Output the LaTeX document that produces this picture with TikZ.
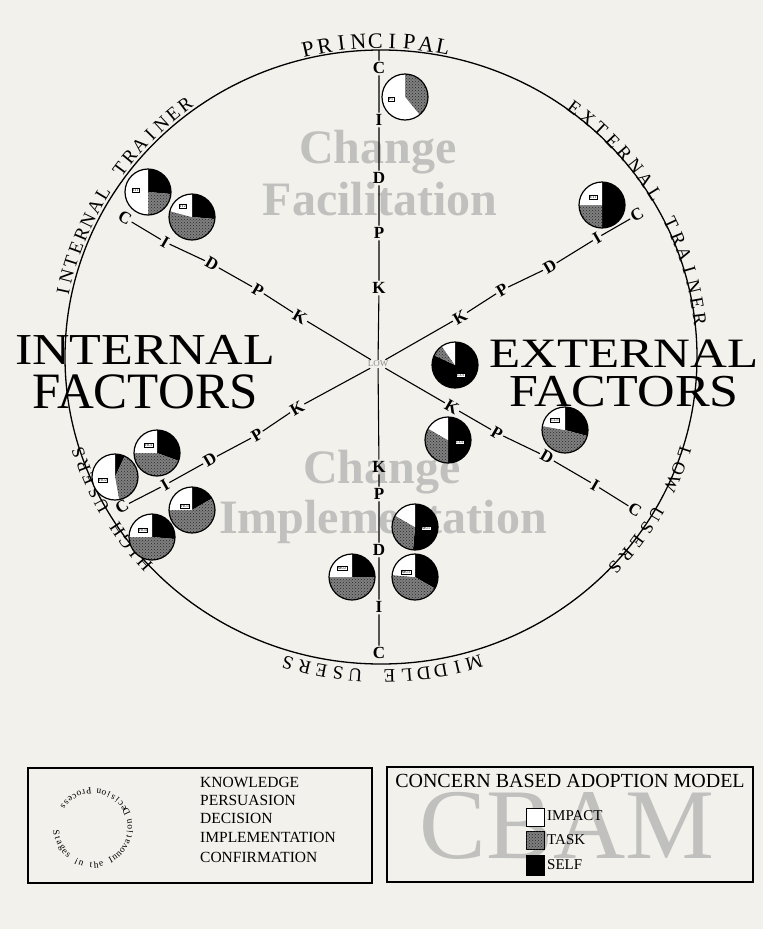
\documentclass[tikz,border=0pt]{standalone}
\usepackage{fontspec}
\setmainfont{Liberation Serif}
\usetikzlibrary{calc,patterns}
\definecolor{bg}{RGB}{243,241,236}
\definecolor{wmgray}{RGB}{192,192,190}

% text along the big circle: name, offset, start angle, step, rotation offset, font size, letters
\newcommand\arctext[7]{%
  \foreach \ch [count=\ii from 0] in {#7} {%
    \pgfmathsetmacro\myang{#3+\ii*(#4)}%
    \pgfmathsetmacro\px{381+(316+#2)*cos(\myang)}%
    \pgfmathsetmacro\py{357-(307+#2)*sin(\myang)}%
    \pgfmathsetmacro\myrot{\myang+(#5)}%
    \node[rotate=\myrot, inner sep=0pt, font=\fontsize{#6}{#6}\selectfont] (#1\ii) at (\px,\py) {\ch};
  }}
% text around the small ring of the legend
\newcommand\ringtext[6]{%
  \foreach \ch [count=\ii from 0] in {#6} {%
    \pgfmathsetmacro\myang{#3+\ii*(#4)}%
    \pgfmathsetmacro\px{93+#2*cos(\myang)}%
    \pgfmathsetmacro\py{828-#2*sin(\myang)}%
    \pgfmathsetmacro\myrot{\myang+90}%
    \node[rotate=\myrot, inner sep=0pt, font=\fontsize{#5}{#5}\selectfont] (#1\ii) at (\px,\py) {\ch};
  }}
% pie: name, x, y, self end, task end, label, label dx, label dy
\newcommand\mypie[8]{%
  \fill[black] (#2,#3) -- ++(-90:23) arc[start angle=-90, end angle=#4-90, radius=23] -- cycle;
  \fill[task] (#2,#3) -- ++(#4-90:23) arc[start angle=#4-90, end angle=#5-90, radius=23] -- cycle;
  \fill[white] (#2,#3) -- ++(#5-90:23) arc[start angle=#5-90, end angle=270, radius=23] -- cycle;
  \node[piecirc] (#1) at (#2,#3) {};
  \node[pielab] (#1lab) at ($(#2,#3)+(#7,#8)$) {#6};
}

\tikzset{
  spk/.style={font=\bfseries\fontsize{17}{17}\selectfont, inner sep=1.5pt},
  spokeline/.style={line width=1.1pt},
  task/.style={fill=black!50, postaction={pattern=crosshatch dots, pattern color=black!85}},
  piecirc/.style={circle, draw, line width=1.2pt, minimum size=46pt, inner sep=0pt},
  pielab/.style={draw, fill=white, line width=0.4pt, font=\fontsize{4}{4}\selectfont, inner sep=0.8pt},
  wmark/.style={text=wmgray, font=\bfseries\fontsize{48}{48}\selectfont, anchor=base, inner sep=0pt},
  legendbox/.style={draw, line width=1.2pt},
  legtext/.style={font=\fontsize{15.5}{15.5}\selectfont, anchor=west, inner sep=0pt},
}

\begin{document}
\begin{tikzpicture}[x=1pt,y=1pt,yscale=-1]
\useasboundingbox (0,0) rectangle (763,929);
\fill[bg] (0,0) rectangle (763,929);

% watermark texts
\node[wmark] (wm1) at (378,163) {Change};
\node[wmark] (wm2) at (380,215) {Facilitation};
\node[wmark] (wm3) at (382,483) {Change};
\node[wmark] (wm4) at (383,533) {Implementation};

% big circle
\draw[line width=1.3pt] (381,357) ellipse [x radius=316, y radius=307];

% labels along the circle
\arctext{pr}{9}{103}{-3}{-90}{22}{P,R,I,N,C,I,P,A,L}
\arctext{it}{9}{168}{-2.73}{-90}{19}{I,N,T,E,R,N,A,L,,T,R,A,I,N,E,R}
\arctext{et}{5}{53}{-3.07}{-90}{19}{E,X,T,E,R,N,A,L,,T,R,A,I,N,E,R}
\arctext{lu}{3}{-18}{-3.1}{-90}{18}{L,O,W,,U,S,E,R,S}
\arctext{mu}{12}{-73.5}{-3}{-90}{19}{M,I,D,D,L,E,,U,S,E,R,S}
\arctext{hu}{2}{-138}{-2.67}{-90}{18}{H,I,G,H,,U,S,E,R,S}

% big factor labels
\node[font=\fontsize{52}{52}\selectfont, inner sep=0pt] (intl) at (145,350) {\scalebox{1}[0.85]{INTERNAL}};
\node[font=\fontsize{51}{51}\selectfont, inner sep=0pt] (intf) at (145,392) {FACTORS};
\node[font=\fontsize{51}{51}\selectfont, inner sep=0pt] (extl) at (624,354) {\scalebox{1}[0.82]{EXTERNAL}};
\node[font=\fontsize{52}{52}\selectfont, inner sep=0pt] (extf) at (624,392) {\scalebox{1}[0.88]{FACTORS}};

% hub
\node[font=\fontsize{9}{9}\selectfont, text=black!45, inner sep=1pt] (hub) at (378,364) {LOW};

% spoke letters
\node[spk] (tC) at (379,68) {C};
\node[spk] (tI) at (379,120) {I};
\node[spk] (tD) at (379,178) {D};
\node[spk] (tP) at (379,233) {P};
\node[spk] (tK) at (379,288) {K};
\coordinate (topend) at (379,50);

\node[spk] (bK) at (379,467) {K};
\node[spk] (bP) at (379,494) {P};
\node[spk] (bD) at (379,550) {D};
\node[spk] (bI) at (379,607) {I};
\node[spk] (bC) at (379,653) {C};

\node[spk, rotate=-30] (luC) at (125,218) {C};
\node[spk, rotate=-30] (luI) at (165,242) {I};
\node[spk, rotate=-30] (luD) at (212,264) {D};
\node[spk, rotate=-30] (luP) at (258,290) {P};
\node[spk, rotate=-30] (luK) at (300,317) {K};

\node[spk, rotate=30] (ruC) at (637,215) {C};
\node[spk, rotate=30] (ruI) at (597,238) {I};
\node[spk, rotate=30] (ruD) at (550,267) {D};
\node[spk, rotate=30] (ruP) at (502,290) {P};
\node[spk, rotate=30] (ruK) at (460,317) {K};

\node[spk, rotate=30] (llK) at (297,408) {K};
\node[spk, rotate=30] (llP) at (257,435) {P};
\node[spk, rotate=30] (llD) at (210,460) {D};
\node[spk, rotate=30] (llI) at (165,485) {I};
\node[spk, rotate=30] (llC) at (122,507) {C};

\node[spk, rotate=-30] (rlK) at (452,407) {K};
\node[spk, rotate=-30] (rlP) at (497,433) {P};
\node[spk, rotate=-30] (rlD) at (547,457) {D};
\node[spk, rotate=-30] (rlI) at (595,485) {I};
\node[spk, rotate=-30] (rlC) at (635,510) {C};

% spokes
\draw[spokeline] (hub) -- (tK) -- (tP) -- (tD) -- (tI) -- (tC) -- (topend);
\draw[spokeline] (hub) -- (bK) -- (bP) -- (bD) -- (bI) -- (bC);
\draw[spokeline] (hub) -- (luK) -- (luP) -- (luD) -- (luI) -- (luC);
\draw[spokeline] (hub) -- (ruK) -- (ruP) -- (ruD) -- (ruI) -- (ruC);
\draw[spokeline] (hub) -- (llK) -- (llP) -- (llD) -- (llI) -- (llC);
\draw[spokeline] (hub) -- (rlK) -- (rlP) -- (rlD) -- (rlI) -- (rlC);

% pies
\mypie{pP}{405}{97}{0}{141}{P1}{-14}{2}
\mypie{pIT1}{148}{192}{95}{180}{IT1}{-12}{-2}
\mypie{pIT2}{192}{217}{95}{285}{IT2}{-9}{-11}
\mypie{pET}{602}{205}{180}{270}{ET1}{-9}{-8}
\mypie{pLU1}{455}{365}{295}{325}{LU1}{6}{10}
\mypie{pLU2}{448}{440}{180}{300}{LU2}{12}{2}
\mypie{pLU3}{565}{430}{105}{280}{LU3}{-10}{-10}
\mypie{pHU1}{157}{453}{110}{270}{HU1}{-8}{-8}
\mypie{pHU2}{115}{477}{25}{170}{HU2}{-12}{3}
\mypie{pHU3}{192}{510}{60}{270}{HU3}{-7}{-4}
\mypie{pHU4}{152}{537}{95}{270}{HU4}{-9}{-7}
\mypie{pMU1}{415}{527}{185}{300}{MU1}{11}{1}
\mypie{pMU2}{352}{577}{90}{270}{MU2}{-10}{-9}
\mypie{pMU3}{415}{577}{120}{275}{MU3}{-9}{-5}

% legend left
\draw[legendbox] (28,768) rectangle (372,883);
\ringtext{rg}{37}{188}{7.9}{9.5}{S,t,a,g,e,s,,i,n,,t,h,e,,I,n,n,o,v,a,t,i,o,n,,D,e,c,i,s,i,o,n,,P,r,o,c,e,s,s}
\node[legtext] (k1) at (200,782) {KNOWLEDGE};
\node[legtext] (k2) at (200,800) {PERSUASION};
\node[legtext] (k3) at (200,818) {DECISION};
\node[legtext] (k4) at (200,837) {IMPLEMENTATION};
\node[legtext] (k5) at (200,857) {CONFIRMATION};

% legend right
\draw[legendbox] (387,767) rectangle (753,882);
\node[text=wmgray, font=\fontsize{100}{100}\selectfont, anchor=base, inner sep=0pt] (cbam) at (567,858) {CBAM};
\node[font=\fontsize{20}{20}\selectfont, inner sep=0pt] (title) at (570,781) {CONCERN BASED ADOPTION MODEL};
\draw[line width=1pt, fill=white] (526,808) rectangle (544,826);
\draw[line width=1pt, task] (526,831) rectangle (544,849);
\draw[line width=1pt, fill=black] (526,855) rectangle (544,875);
\node[legtext, font=\fontsize{15}{15}\selectfont] (limp) at (547,816) {IMPACT};
\node[legtext, font=\fontsize{15}{15}\selectfont] (ltask) at (547,840) {TASK};
\node[legtext, font=\fontsize{15}{15}\selectfont] (lself) at (547,865) {SELF};
\end{tikzpicture}
\end{document}
